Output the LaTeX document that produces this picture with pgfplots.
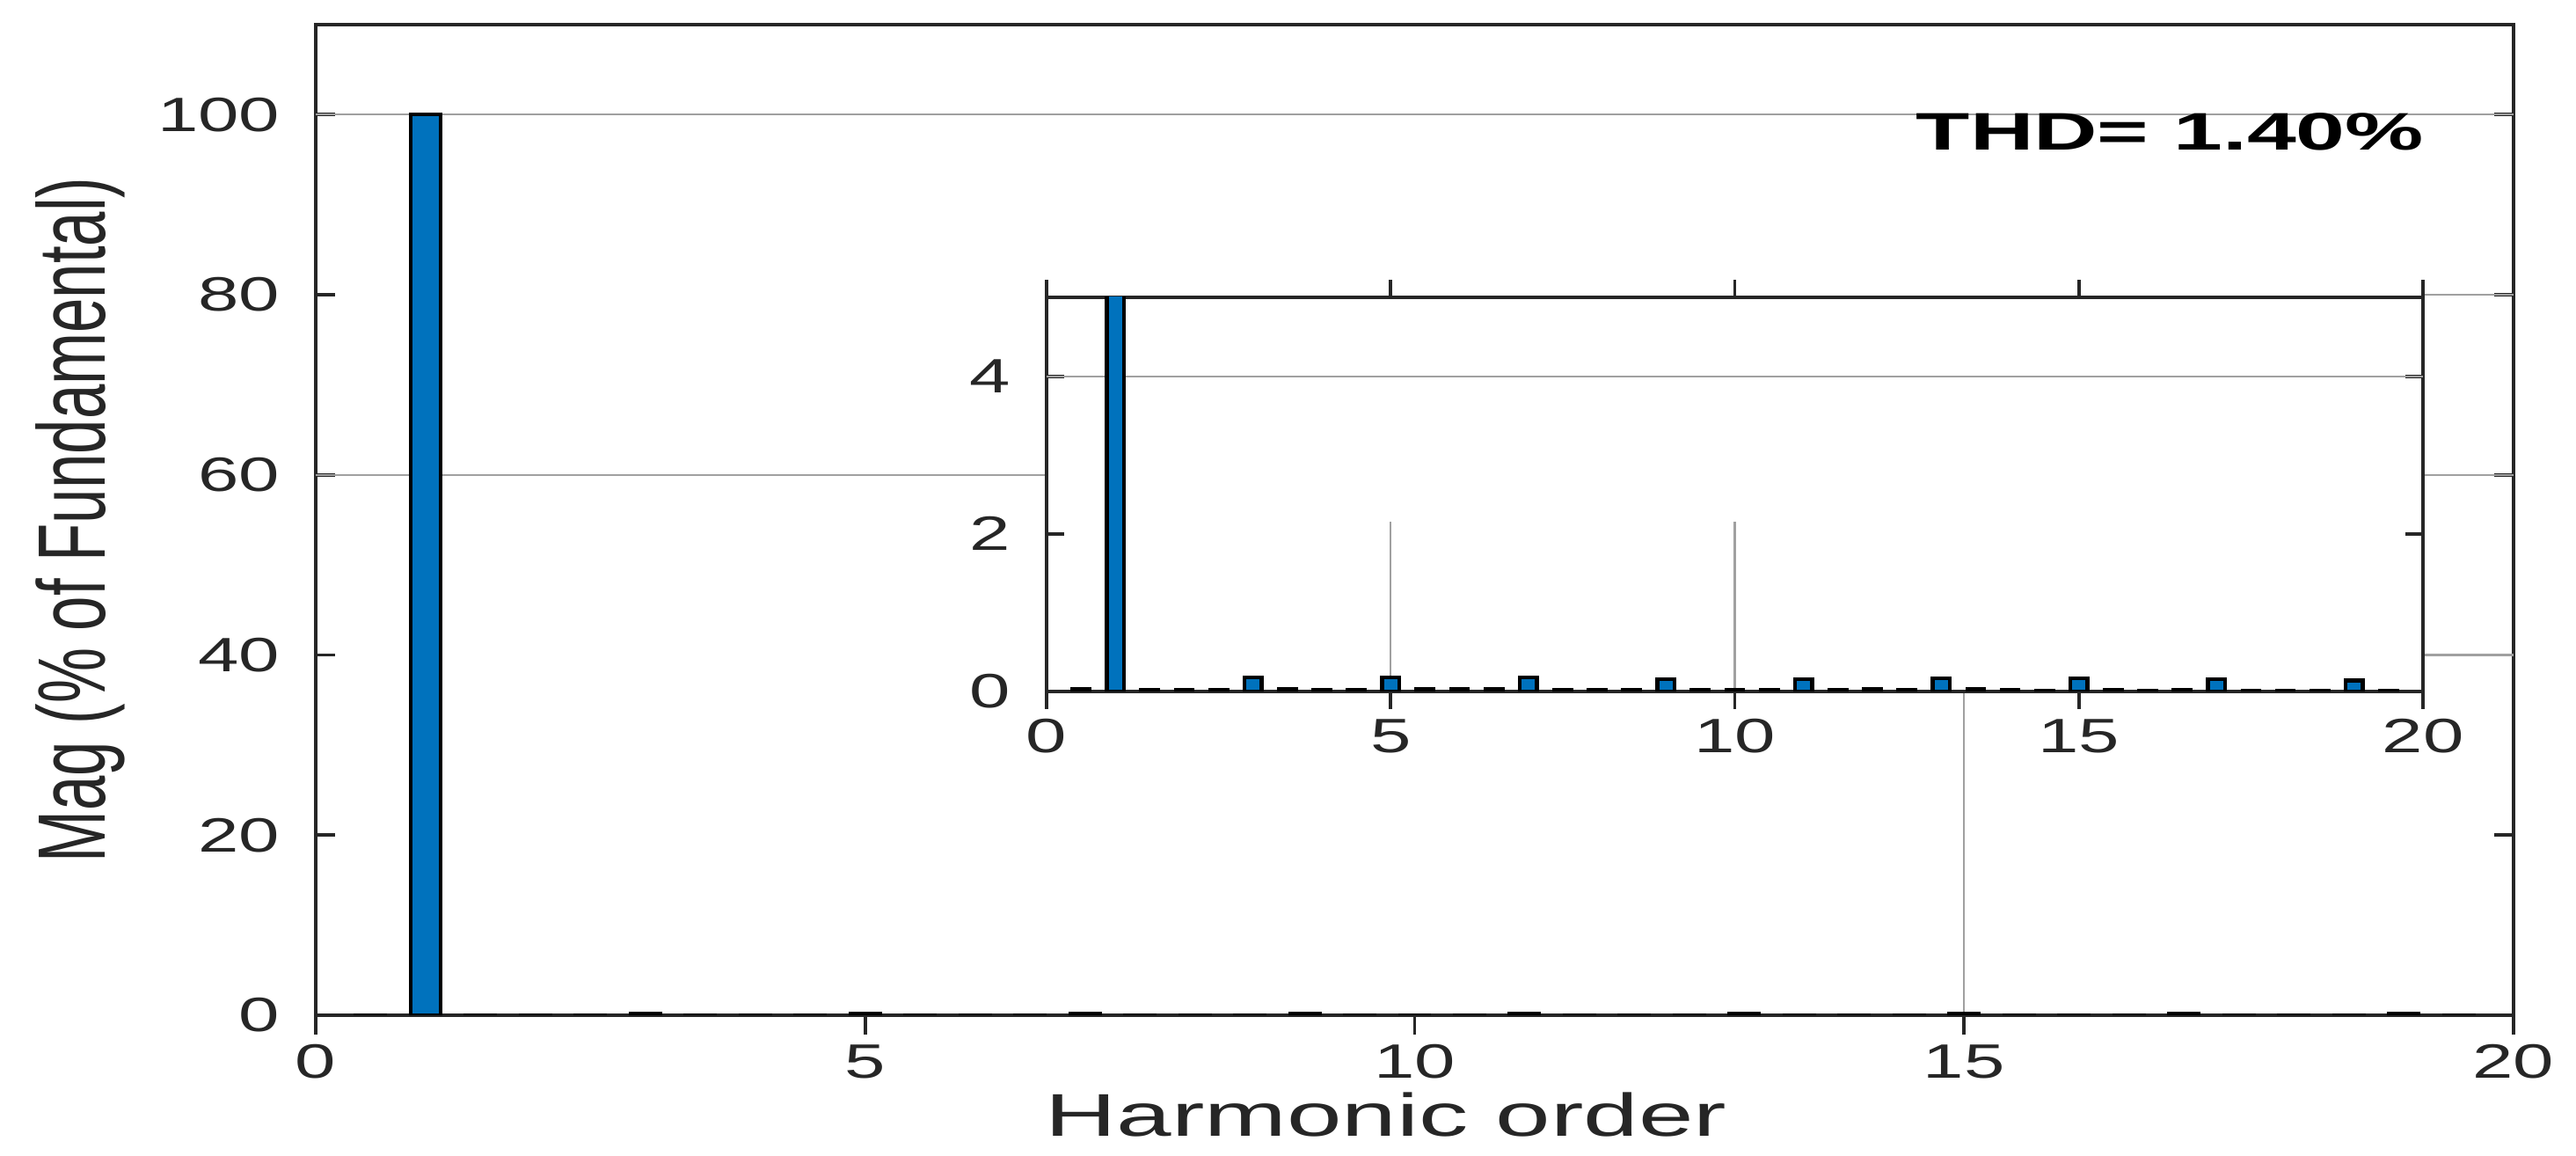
\documentclass[border=0pt]{standalone}
\usepackage{pgfplots}
\pgfplotsset{compat=1.18}
\usepackage{pgfplotstable}
\usepackage{fontspec}
\setmainfont{Liberation Sans}
\newfontfamily\tickfont[FakeStretch=1.52]{Liberation Sans}
\newfontfamily\ylabfont[FakeStretch=0.65]{Liberation Sans}
\newfontfamily\xlabfont[FakeStretch=1.64]{Liberation Sans}
\newfontfamily\thdfont[FakeStretch=1.67]{Liberation Sans}
\definecolor{mlblue}{RGB}{0,114,189}
\definecolor{axgray}{RGB}{38,38,38}
\definecolor{gridgray}{RGB}{160,160,160}

% harmonic spectrum (% of fundamental), 0.5 steps
\pgfplotstableread{
h mag
0.5 0.03
1 100
1.5 0.02
2 0.02
2.5 0.02
3 0.18
3.5 0.03
4 0.02
4.5 0.02
5 0.18
5.5 0.03
6 0.03
6.5 0.03
7 0.18
7.5 0.02
8 0.02
8.5 0.02
9 0.16
9.5 0.02
10 0.02
10.5 0.02
11 0.16
11.5 0.02
12 0.03
12.5 0.02
13 0.17
13.5 0.03
14 0.02
14.5 0.015
15 0.17
15.5 0.02
16 0.015
16.5 0.02
17 0.16
17.5 0.015
18 0.015
18.5 0.015
19 0.14
19.5 0.015
}\harm

\pgfplotsset{mlab/.style={
    scale only axis,
    axis line style={axgray, line width=1.3pt},
    tick style={axgray, line width=1.1pt},
    tick align=inside,
    major tick length=2.2mm,
    /pgf/number format/assume math mode=true,
    xticklabel={\pgfmathprintnumber{\tick}},
    yticklabel={\pgfmathprintnumber{\tick}},
    ticklabel style={font=\tickfont\fontsize{15.6}{15.6}\selectfont, text=axgray, inner sep=0pt},
    xticklabel style={yshift=-1.1mm},
    yticklabel style={xshift=-4mm},
    xmin=0, xmax=20, xtick={0,5,...,20},
    ybar, bar shift=0pt,
}}

\begin{document}
\begin{tikzpicture}
\useasboundingbox (-35.9mm,-16mm) rectangle (257mm,115.4mm);
\begin{axis}[mlab,
    at={(0,0)}, anchor=south west,
    width=249.9mm, height=112.6mm,
    xtick pos=lower,
    ymin=0, ymax=110, ytick={0,20,...,100},
    bar width=0.27,
    xlabel={Harmonic order},
    xlabel style={font=\xlabfont\fontsize{19.5}{19.5}\selectfont, text=axgray,
        inner sep=0pt, text height=14pt,
        at={(axis description cs:0.487,-0.122)}, anchor=base},
    ylabel={Mag (\% of Fundamental)},
    ylabel style={font=\ylabfont\fontsize{31}{31}\selectfont, text=axgray,
        at={(axis description cs:-0.107,0.5)}, anchor=center},
]
\draw[gridgray, line width=0.6pt] (0,100) -- (20,100);
\draw[gridgray, line width=0.6pt] (0,60) -- (20,60);
\draw[gridgray, line width=0.6pt] (19.17,80) -- (20,80);
\draw[gridgray, line width=0.6pt] (19.17,40) -- (20,40);
\draw[gridgray, line width=0.6pt] (15,0) -- (15,36);
\addplot[fill=mlblue, draw=black, line width=1.2pt] table[x=h, y=mag] {\harm};
\node[anchor=base east, inner sep=0pt, font=\thdfont\bfseries\fontsize{17.1}{17.1}\selectfont]
    at (19.19,96.1) {THD= 1.40\%};
\end{axis}

\begin{axis}[mlab,
    at={(83.1mm,36.8mm)}, anchor=south west,
    width=156.5mm, height=44.8mm,
    ymin=0, ymax=5, ytick={0,2,4},
    major tick length=2mm,
    bar width=0.25,
    axis background/.style={fill=white},
]
\draw[gridgray, line width=0.6pt] (0,4) -- (20,4);
\draw[gridgray, line width=0.6pt] (5,0) -- (5,2.15);
\draw[gridgray, line width=0.6pt] (10,0) -- (10,2.15);
\addplot[fill=mlblue, draw=black, line width=1.2pt] table[x=h, y=mag] {\harm};
\end{axis}
\end{tikzpicture}
\end{document}
